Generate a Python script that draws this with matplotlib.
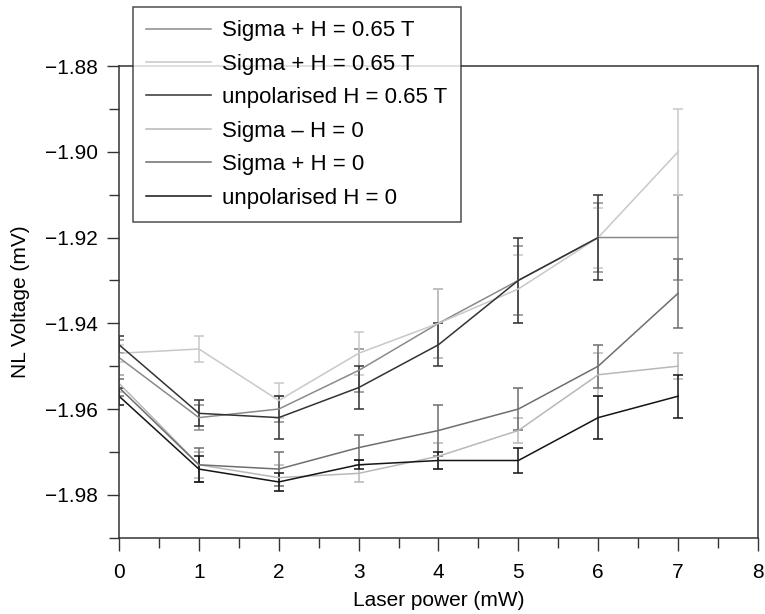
import matplotlib.pyplot as plt
from matplotlib.lines import Line2D
from matplotlib.ticker import MultipleLocator

plt.rcParams["font.family"] = ["Liberation Sans", "DejaVu Sans"]

# laser power (mW)
power = [0, 1, 2, 3, 4, 5, 6, 7]

labels = [
    "Sigma + H = 0.65 T",
    "Sigma + H = 0.65 T",
    "unpolarised H = 0.65 T",
    "Sigma \u2013 H = 0",
    "Sigma + H = 0",
    "unpolarised H = 0",
]

# NL voltage (mV) and error bars, one list per series
sig_plus_065 = [-1.948, -1.962, -1.960, -1.951, -1.940, -1.930, -1.920, -1.920]
sig_plus_065_err = [0.004, 0.003, 0.003, 0.005, 0.008, 0.008, 0.008, 0.010]

sig_plus_065_b = [-1.947, -1.946, -1.958, -1.947, -1.940, -1.932, -1.920, -1.900]
sig_plus_065_b_err = [0.002, 0.003, 0.004, 0.005, 0.008, 0.008, 0.007, 0.010]

unpol_065 = [-1.945, -1.961, -1.962, -1.955, -1.945, -1.930, -1.920]
unpol_065_err = [0.002, 0.003, 0.005, 0.005, 0.005, 0.010, 0.010]

sig_minus_0 = [-1.954, -1.973, -1.976, -1.975, -1.971, -1.965, -1.952, -1.950]
sig_minus_0_err = [0.002, 0.003, 0.003, 0.002, 0.003, 0.003, 0.005, 0.003]

sig_plus_0 = [-1.955, -1.973, -1.974, -1.969, -1.965, -1.960, -1.950, -1.933]
sig_plus_0_err = [0.002, 0.004, 0.004, 0.003, 0.006, 0.005, 0.005, 0.008]

unpol_0 = [-1.957, -1.974, -1.977, -1.973, -1.972, -1.972, -1.962, -1.957]
unpol_0_err = [0.002, 0.003, 0.002, 0.001, 0.002, 0.003, 0.005, 0.005]

series = [
    (sig_plus_065, sig_plus_065_err, "#8a8a8a"),
    (sig_plus_065_b, sig_plus_065_b_err, "#c8c8c8"),
    (unpol_065, unpol_065_err, "#333333"),
    (sig_minus_0, sig_minus_0_err, "#b8b8b8"),
    (sig_plus_0, sig_plus_0_err, "#6e6e6e"),
    (unpol_0, unpol_0_err, "#151515"),
]

fig = plt.figure(figsize=(7.65, 6.14), dpi=100)
ax = fig.add_axes([0.1556, 0.1243, 0.8352, 0.7682])

handles = []
for vals, errs, color in series:
    x = power[:len(vals)]
    ax.errorbar(x, vals, yerr=errs, color=color, ecolor=color, lw=1.1,
                elinewidth=1.1, capsize=3.5, capthick=1.1)
    # legend shows plain lines only
    handles.append(Line2D([], [], color=color, lw=1.1))

ax.set_xlim(0, 8)
ax.set_ylim(-1.99, -1.88)
ax.xaxis.set_major_locator(MultipleLocator(1))
ax.xaxis.set_minor_locator(MultipleLocator(0.5))
ax.yaxis.set_minor_locator(MultipleLocator(0.01))
ax.set_yticks([-1.98, -1.96, -1.94, -1.92, -1.90, -1.88])

ax.tick_params(which="major", direction="out", length=9, width=1, labelsize=15,
               color="#333333", pad=6)
ax.tick_params(axis="x", which="major", pad=9)
ax.tick_params(which="minor", direction="out", length=7, width=1, color="#333333")
for sp in ax.spines.values():
    sp.set_color("#333333")
    sp.set_linewidth(1.1)

ax.set_xlabel("Laser power (mW)", fontsize=15, labelpad=7)
ax.set_ylabel("NL Voltage (mV)", fontsize=15, labelpad=11)

leg = ax.legend(handles, labels, loc="upper left", bbox_to_anchor=(0.022, 1.125),
                borderaxespad=0, fontsize=16, frameon=True, fancybox=False,
                edgecolor="#222222", handlelength=2.9, handletextpad=0.5,
                labelspacing=0.56, borderpad=0.6)
leg.get_frame().set_linewidth(1.1)

fig.savefig("out.png", dpi=100)
